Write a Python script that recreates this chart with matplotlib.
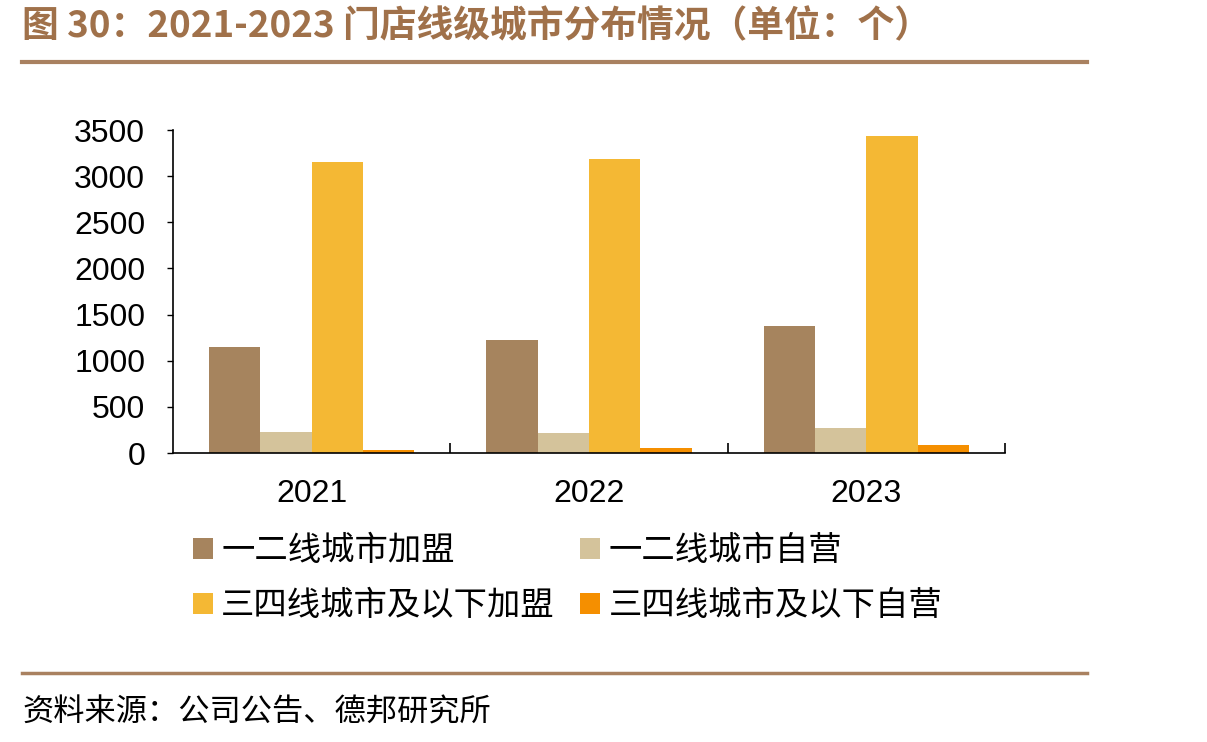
import matplotlib
matplotlib.use("Agg")
import matplotlib.pyplot as plt
import numpy as np
from matplotlib.lines import Line2D

plt.rcParams['font.family'] = ['Liberation Sans', 'Noto Sans CJK SC']

years = ['2021', '2022', '2023']
series_names = ['一二线城市加盟', '一二线城市自营', '三四线城市及以下加盟', '三四线城市及以下自营']
franchise_t12 = [1150, 1220, 1380]
self_t12 = [230, 220, 275]
franchise_t34 = [3150, 3190, 3435]
self_t34 = [35, 55, 90]
yticks = [0, 500, 1000, 1500, 2000, 2500, 3000, 3500]

colors = ['#A6845E', '#D4C39B', '#F4B834', '#F58F00']
title_color = '#A0714A'
line_color = '#A98160'

W, H = 1207, 742
fig = plt.figure(figsize=(W / 100, H / 100), dpi=100)
ax = fig.add_axes([173 / W, 1 - 453 / H, (1005 - 173) / W, (453 - 130) / H])

x = np.arange(len(years))
bw = 0.185
data = [franchise_t12, self_t12, franchise_t34, self_t34]
for i, (vals, c, name) in enumerate(zip(data, colors, series_names)):
    ax.bar(x + (i - 1.5) * bw, vals, width=bw, color=c, label=name, zorder=2)

ax.set_xlim(-0.5, 2.5)
ax.set_ylim(0, 3500)
ax.set_yticks(yticks)
ax.set_yticklabels([str(v) for v in yticks])
ax.set_xticks(x)
ax.set_xticklabels(years)
ax.set_xticks([0.5, 1.5, 2.5], minor=True)
ax.tick_params(axis='x', which='major', length=0, pad=19, labelsize=23)
ax.tick_params(axis='x', which='minor', direction='in', length=7, width=1.2, color='black')
ax.tick_params(axis='y', direction='out', length=4, width=1, pad=16, labelsize=23)
for s in ['top', 'right']:
    ax.spines[s].set_visible(False)
for s in ['left', 'bottom']:
    ax.spines[s].set_color('black')
    ax.spines[s].set_linewidth(1.2)
    ax.spines[s].set_zorder(3)

handles, labels = ax.get_legend_handles_labels()
order = [0, 2, 1, 3]
leg = fig.legend([handles[i] for i in order], [labels[i] for i in order],
                 ncol=2, loc='upper left',
                 bbox_to_anchor=(193 / W, 1 - 533 / H), frameon=False,
                 prop={'family': ['Noto Sans CJK SC'], 'size': 24},
                 handlelength=0.6, handleheight=0.6, handletextpad=0.25,
                 columnspacing=0.75, labelspacing=0.6, borderpad=0, borderaxespad=0)

fig.text(22 / W, 1 - 27 / H, '图 30：2021-2023 门店线级城市分布情况（单位：个）',
         family=['Noto Sans CJK SC'], fontsize=26.5, fontweight='bold',
         color=title_color, va='center', ha='left')
fig.add_artist(Line2D([22 / W, 1087 / W], [1 - 62 / H, 1 - 62 / H],
                      color=line_color, linewidth=3, transform=fig.transFigure))
fig.add_artist(Line2D([22 / W, 1087 / W], [1 - 673 / H, 1 - 673 / H],
                      color=line_color, linewidth=2.5, transform=fig.transFigure))
fig.text(22 / W, 1 - 712 / H, '资料来源：公司公告、德邦研究所',
         family=['Noto Sans CJK SC'], fontsize=22.5, color='black',
         va='center', ha='left')

fig.savefig('out.png', dpi=100)
